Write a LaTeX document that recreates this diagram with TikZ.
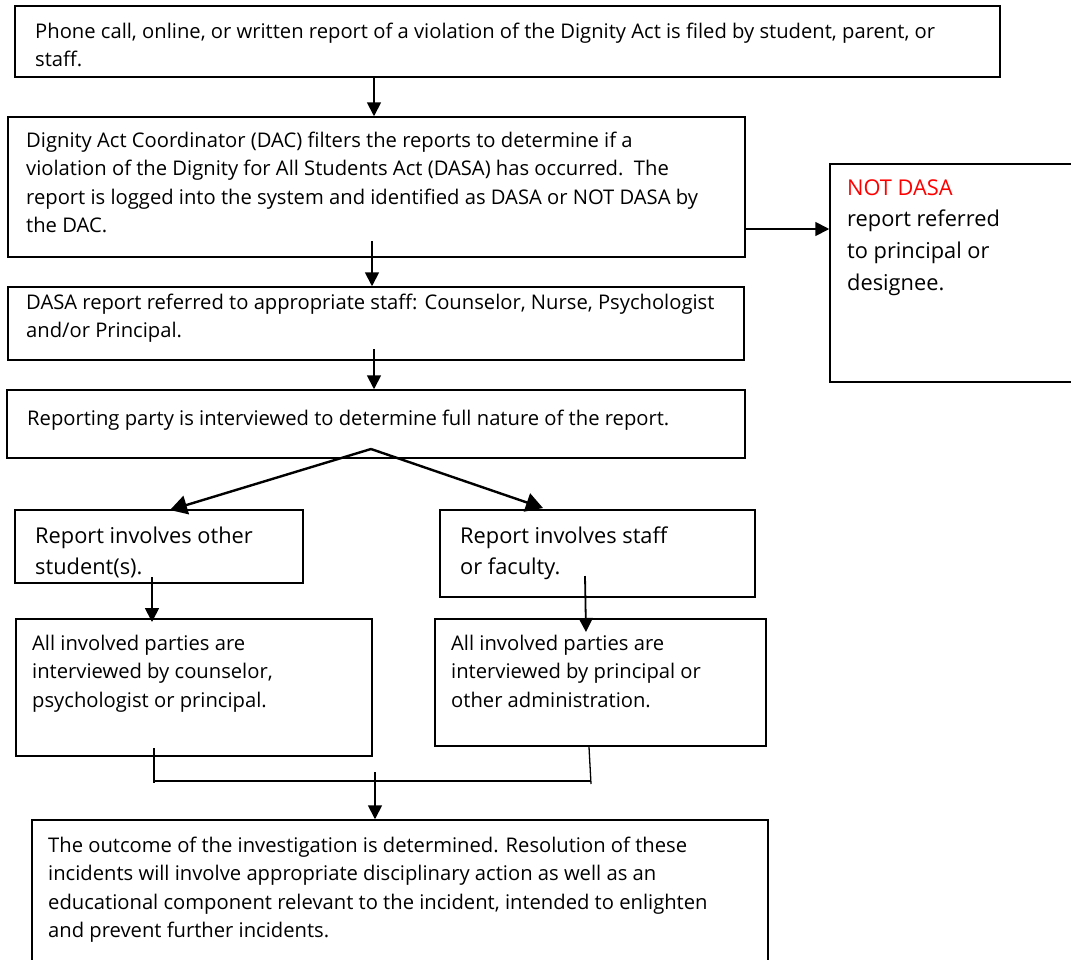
\documentclass[tikz,border=0pt]{standalone}
\usepackage{fontspec}
\setmainfont{Open Sans}
\usetikzlibrary{arrows.meta}
\definecolor{notred}{RGB}{255,0,0}
\newcommand\mylines[1]{\begin{tabular}[t]{@{}l@{}}#1\end{tabular}}
\begin{document}
\begin{tikzpicture}[x=1pt,y=-1pt,
  box/.style={draw, line width=1.5pt, inner sep=0pt, minimum width=#1},
  txt/.style={anchor=base west, inner sep=0pt, font=\fontsize{20.2}{28.5}\selectfont},
  bigtxt/.style={anchor=base west, inner sep=0pt, font=\fontsize{21.8}{31.7}\selectfont},
  arr/.style={line width=1.8pt, -{Triangle[length=14pt,width=14pt]}},
  diag/.style={line width=2.4pt, -{Triangle[length=17pt,width=19pt]}},
  brk/.style={line width=1.3pt},
]
\clip (0,0) rectangle (1071,959);
\fill[white] (0,0) rectangle (1071,959);

% boxes
\node[box=985pt, minimum height=71pt] (b1) at (507.5,41.5) {};
\node[box=737pt, minimum height=140pt] (b2) at (376.5,187) {};
\node[box=270pt, minimum height=218pt] (nd) at (965,273) {};
\node[box=736pt, minimum height=73pt] (b3) at (376,323.5) {};
\node[box=738pt, minimum height=68pt] (b4) at (376,424) {};
\node[box=288pt, minimum height=73pt] (b5l) at (159,546.5) {};
\node[box=315pt, minimum height=87pt] (b5r) at (597.5,553.5) {};
\node[box=356pt, minimum height=137pt] (b6l) at (194,687.5) {};
\node[box=331pt, minimum height=127pt] (b6r) at (600.5,682.5) {};
\node[box=736pt, minimum height=180pt] (b7) at (400,910) {};

% texts
\node[txt] (t1) at (35,38) {\mylines{Phone call, online, or written report of a violation of the Dignity Act is filed by student, parent, or\\staff.}};
\node[txt] (t2) at (26,147) {\mylines{Dignity Act Coordinator (DAC) filters the reports to determine if a\\violation of the Dignity for All Students Act (DASA) has occurred.\ \ The\\report is logged into the system and identified as DASA or NOT DASA by\\the DAC.}};
\node[bigtxt] (tnd) at (847,195) {\mylines{\textcolor{notred}{NOT DASA}\\report referred\\to principal or\\designee.}};
\node[txt] (t3) at (26,309) {\mylines{DASA report referred to appropriate staff: Counselor, Nurse, Psychologist\\and/or Principal.}};
\node[txt] (t4) at (27,425) {Reporting party is interviewed to determine full nature of the report.};
\begin{scope}
\clip (b5l.north west) rectangle (b5l.south east);
\node[bigtxt] (t5l) at (35,543) {\mylines{Report involves other\\student(s).}};
\end{scope}
\begin{scope}
\clip (b5r.north west) rectangle (b5r.south east);
\node[bigtxt] (t5r) at (460,543) {\mylines{Report involves staff\\or faculty.}};
\end{scope}
\node[txt] (t6l) at (32,650) {\mylines{All involved parties are\\interviewed by counselor,\\psychologist or principal.}};
\node[txt] (t6r) at (451,650) {\mylines{All involved parties are\\interviewed by principal or\\other administration.}};
\node[txt] (t7) at (48,852) {\mylines{The outcome of the investigation is determined. Resolution of these\\incidents will involve appropriate disciplinary action as well as an\\educational component relevant to the incident, intended to enlighten\\and prevent further incidents.}};

% connector anchors
\coordinate (c1s) at (374,78);
\coordinate (c2s) at (745,229);
\coordinate (c3s) at (372,241);
\coordinate (c4s) at (374,349);
\coordinate (apex) at (371,449);
\coordinate (dl) at (170,510);
\coordinate (dr) at (543,508);
\coordinate (c5ls) at (152,577);
\coordinate (c5le) at (152,622);
\coordinate (c5rs) at (585,576);
\coordinate (c5re) at (586,632);
\coordinate (bl1) at (154,748);
\coordinate (bl2) at (154,783);
\coordinate (bm1) at (154,781);
\coordinate (bm2) at (591,781);
\coordinate (br1) at (589,747);
\coordinate (br2) at (591,784);
\coordinate (c7s) at (375,772);

% connectors
\draw[arr] (c1s) -- (b2.north -| c1s);
\draw[arr] (c2s) -- (nd.west |- c2s);
\draw[arr] (c3s) -- (b3.north -| c3s);
\draw[arr] (c4s) -- (b4.north -| c4s);
\draw[diag] (apex) -- (dl);
\draw[diag] (apex) -- (dr);
\draw[arr] (c5ls) -- (c5le);
\draw[arr] (c5rs) -- (c5re);
\draw[brk] (bl1) -- (bl2);
\draw[brk] (bm1) -- (bm2);
\draw[brk] (br1) -- (br2);
\draw[arr] (c7s) -- (b7.north -| c7s);
\end{tikzpicture}
\end{document}
